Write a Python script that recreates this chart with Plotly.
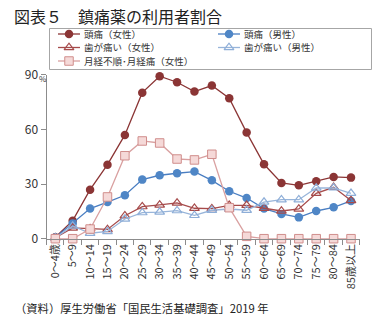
import plotly.graph_objects as go

ages = ["0～4歳", "5～9", "10～14", "15～19", "20～24", "25～29", "30～34", "35～39",
        "40～44", "45～49", "50～54", "55～59", "60～64", "65～69", "70～74", "75～79",
        "80～84", "85歳以上"]

headache_f = [0.8, 9.9, 26.9, 40.6, 56.9, 80.1, 89.1, 85.8, 80.7, 84.0, 77.0, 58.2,
              40.8, 30.6, 29.3, 31.5, 33.9, 33.5]
headache_m = [0.6, 8.4, 16.5, 20.1, 23.8, 32.4, 34.8, 35.9, 36.8, 32.0, 26.0, 22.3,
              16.5, 13.6, 11.7, 15.2, 17.2, 20.7]
tooth_f = [0.5, 5.9, 5.5, 5.1, 12.6, 17.6, 18.5, 19.6, 16.7, 16.5, 18.3, 18.3,
           16.7, 15.2, 16.3, 24.9, 28.2, 20.9]
tooth_m = [0.5, 7.0, 3.0, 4.0, 10.8, 14.3, 14.6, 15.4, 12.8, 15.6, 16.3, 15.6,
           20.1, 21.4, 21.4, 27.8, 27.9, 24.9]
menstrual = [0.0, 0.0, 5.3, 22.9, 45.5, 53.6, 52.5, 43.7, 43.2, 46.3, 17.0, 1.3,
             0.0, 0.0, 0.0, 0.0, 0.0, 0.0]

yticks = [0, 30, 60, 90]

FONT = "Noto Sans CJK JP"
W, H = 377, 329
# plot area edges in pixels
PL, PR, PT, PB = 46.6, 359.7, 74.6, 238.7


def px(x):
    return x / W


def py(y):
    return 1 - y / H


series = [
    ("頭痛（女性）", headache_f, "#8B3535", dict(symbol="circle", size=8.5, color="#8B3535",
                                            line=dict(width=0))),
    ("頭痛（男性）", headache_m, "#4A7EC2", dict(symbol="circle", size=8.5, color="#4F86C6",
                                            line=dict(width=0))),
    ("歯が痛い（女性）", tooth_f, "#A64B4B", dict(symbol="triangle-up-open", size=8.5,
                                              color="#A64B4B", line=dict(width=1.2))),
    ("歯が痛い（男性）", tooth_m, "#98B5DA", dict(symbol="triangle-up-open", size=8.5,
                                              color="#8EAED8", line=dict(width=1.2))),
    ("月経不順･月経痛（女性）", menstrual, "#D9A0A0", dict(symbol="square", size=8.5,
                                                  color="#F5D9D8",
                                                  line=dict(width=1, color="#D08E8C"))),
]

fig = go.Figure()
for name, vals, lc, mk in series:
    fig.add_trace(go.Scatter(
        x=ages, y=vals, name=name, mode="lines+markers",
        line=dict(color=lc, width=1.3), marker=mk, cliponaxis=False,
    ))

# Hand-drawn legend: two columns, compact rows, on a full-figure overlay axis
legend_slots = [(58, 34), (218, 34), (58, 47.5), (218, 47.5), (58, 61)]
fig.add_shape(type="rect", xref="paper", yref="paper",
              x0=px(49.5), x1=px(371.5), y0=py(28.5), y1=py(69.5),
              line=dict(color="#A6A6A6", width=1), layer="above")
for (name, vals, lc, mk), (lx, ly) in zip(series, legend_slots):
    fig.add_trace(go.Scatter(
        x=[lx, lx + 22], y=[ly, ly], mode="lines", xaxis="x2", yaxis="y2",
        line=dict(color=lc, width=1.3), hoverinfo="skip", showlegend=False,
    ))
    fig.add_trace(go.Scatter(
        x=[lx + 11], y=[ly], mode="markers", xaxis="x2", yaxis="y2",
        marker=mk, hoverinfo="skip", showlegend=False,
    ))
    fig.add_annotation(text=name, xref="paper", yref="paper", x=px(lx + 25), y=py(ly),
                       xanchor="left", yanchor="middle", showarrow=False, borderpad=0,
                       font=dict(size=9.5, family=FONT, color="#333333"))

fig.update_layout(
    width=W, height=H,
    margin=dict(l=0, r=0, t=0, b=0),
    paper_bgcolor="white", plot_bgcolor="rgba(0,0,0,0)",
    font=dict(family=FONT, color="#333333", size=11),
    showlegend=False,
    xaxis=dict(
        type="category", domain=[PL / W, PR / W], automargin=False,
        showgrid=False, showline=True, linecolor="#8C8C8C",
        ticks="outside", tickson="boundaries", ticklen=5, tickcolor="#8C8C8C",
        tickangle=-90, tickfont=dict(size=11, family=FONT, color="#333333"),
        range=[-0.5, 17.5],
    ),
    yaxis=dict(
        domain=[1 - PB / H, 1 - PT / H], automargin=False,
        range=[0, 90], tickvals=yticks, showgrid=False, zeroline=False,
        showline=True, linecolor="#8C8C8C", ticks="outside", ticklen=5,
        tickcolor="#8C8C8C", tickfont=dict(size=12, family=FONT, color="#333333"),
    ),
    xaxis2=dict(domain=[0, 1], anchor="y2", range=[0, W], visible=False,
                fixedrange=True, automargin=False),
    yaxis2=dict(domain=[0, 1], anchor="x2", range=[H, 0], visible=False,
                fixedrange=True, automargin=False),
)

fig.add_annotation(text="図表５　鎮痛薬の利用者割合", xref="paper", yref="paper",
                   x=px(12), y=py(16), xanchor="left", yanchor="middle",
                   showarrow=False, font=dict(size=16, family=FONT, color="#222222"))
fig.add_annotation(text="%", xref="paper", yref="paper",
                   x=px(43), y=py(79), xanchor="center", yanchor="middle",
                   showarrow=False, borderpad=0,
                   font=dict(size=8, family=FONT, color="#333333"))
fig.add_annotation(text="（資料）厚生労働省「国民生活基礎調査」2019 年", xref="paper",
                   yref="paper", x=px(13), y=py(308), xanchor="left",
                   yanchor="middle", showarrow=False,
                   font=dict(size=11.3, family=FONT, color="#222222"))

fig.write_html("out.html")
